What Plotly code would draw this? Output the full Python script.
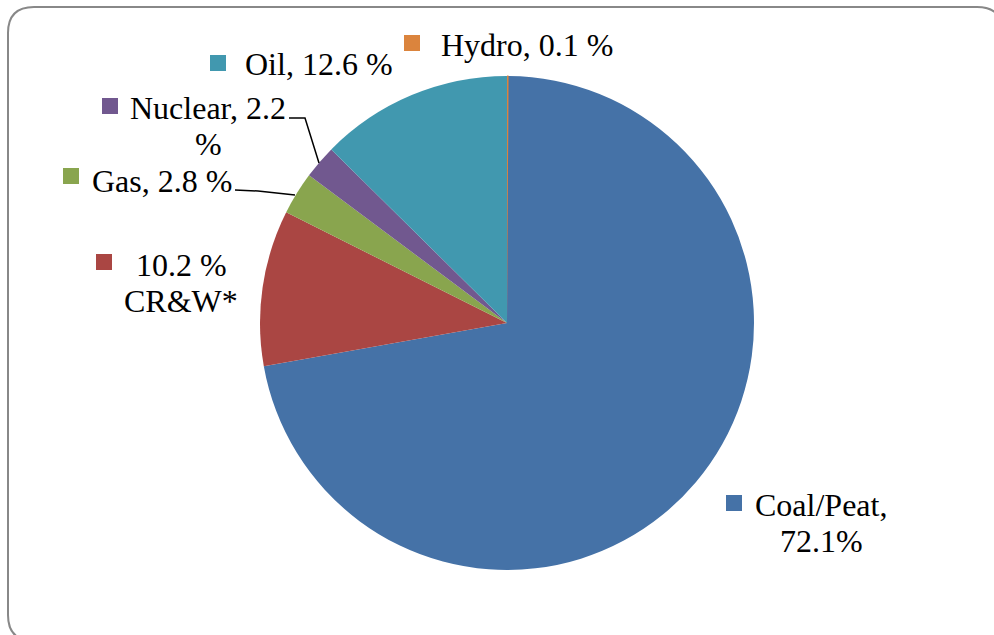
import plotly.graph_objects as go

W, H = 994, 635

# Data (clockwise from 12 o'clock)
categories = ["Hydro", "Coal/Peat", "CR&W*", "Gas", "Nuclear", "Oil"]
shares = [0.1, 72.1, 10.2, 2.8, 2.2, 12.6]
colors = ["#DB843D", "#4572A7", "#AA4643", "#89A54E", "#71588F", "#4198AF"]
label_texts = [
    f"Hydro, {shares[0]} %",
    f"Coal/Peat,<br>{shares[1]}%",
    f"{shares[2]} %<br>CR&W*",
    f"Gas, {shares[3]} %",
    f"Nuclear, {shares[4]}<br>%",
    f"Oil, {shares[5]} %",
]

# label placement (pixel positions: text-block centre, legend-key square top-left)
label_pos = [(527, 45), (821, 523), (181, 283), (162, 181), (208, 126), (319, 64)]
key_pos = [(404, 35), (726, 495), (96, 254), (63, 168), (102, 98), (210, 55)]
KEY = 16
LINE_GAP = 36.5


def px(x):
    return x / W


def py(y):
    return 1 - y / H


# pie geometry
cx, cy, r = 507, 323, 247

fig = go.Figure(
    go.Pie(
        labels=categories,
        values=shares,
        sort=False,
        direction="clockwise",
        rotation=0,
        marker=dict(colors=colors,
                    line=dict(color=colors, width=[1, 0, 0, 0, 0, 0])),
        textinfo="none",
        hoverinfo="label+percent",
        showlegend=False,
        domain=dict(x=[px(cx - r), px(cx + r)], y=[py(cy + r), py(cy - r)]),
    )
)

annotations = []
shapes = []
for txt, (tx, ty), (kx, ky), col in zip(label_texts, label_pos, key_pos, colors):
    lines = txt.split("<br>")
    n = len(lines)
    for i, line in enumerate(lines):
        ly = ty + (i - (n - 1) / 2) * LINE_GAP
        annotations.append(
            dict(
                x=px(tx), y=py(ly), xref="paper", yref="paper",
                text=line, showarrow=False, xanchor="center", yanchor="middle",
                align="center",
                font=dict(family="Liberation Serif", size=32, color="black"),
            )
        )
    shapes.append(
        dict(
            type="rect", xref="paper", yref="paper",
            x0=px(kx), x1=px(kx + KEY), y0=py(ky + KEY), y1=py(ky),
            fillcolor=col, line=dict(width=0),
        )
    )

# leader lines
def polyline(pts):
    d = "M " + " L ".join(f"{px(x)},{py(y)}" for x, y in pts)
    return dict(type="path", xref="paper", yref="paper", path=d,
                line=dict(color="black", width=1.5))

shapes.append(polyline([(289, 118), (305, 118), (319, 163)]))
shapes.append(polyline([(235, 190), (258, 191), (295, 195)]))

# rounded border
x0, y0, x1, y1, rr = 8, 7, 1003, 641, 26
path = (
    f"M {px(x0 + rr)},{py(y0)} L {px(x1 - rr)},{py(y0)} "
    f"Q {px(x1)},{py(y0)} {px(x1)},{py(y0 + rr)} "
    f"L {px(x1)},{py(y1 - rr)} Q {px(x1)},{py(y1)} {px(x1 - rr)},{py(y1)} "
    f"L {px(x0 + rr)},{py(y1)} Q {px(x0)},{py(y1)} {px(x0)},{py(y1 - rr)} "
    f"L {px(x0)},{py(y0 + rr)} Q {px(x0)},{py(y0)} {px(x0 + rr)},{py(y0)} Z"
)
shapes.append(dict(type="path", xref="paper", yref="paper", path=path,
                   line=dict(color="#888888", width=2), layer="below"))

fig.update_layout(
    width=W, height=H,
    margin=dict(l=0, r=0, t=0, b=0),
    paper_bgcolor="white", plot_bgcolor="white",
    annotations=annotations, shapes=shapes,
)

fig.write_html(
    "out.html",
    config={"displayModeBar": False},
    post_script="document.body.style.margin='0';document.body.style.overflow='hidden';",
)
